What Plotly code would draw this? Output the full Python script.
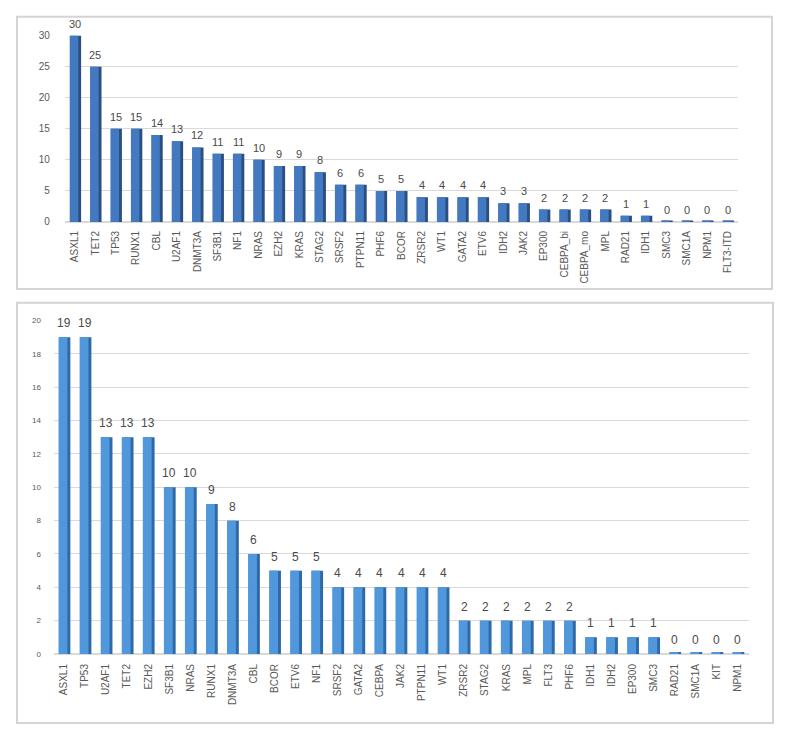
import plotly.graph_objects as go

genes_top = ["ASXL1","TET2","TP53","RUNX1","CBL","U2AF1","DNMT3A","SF3B1","NF1","NRAS",
             "EZH2","KRAS","STAG2","SRSF2","PTPN11","PHF6","BCOR","ZRSR2","WT1","GATA2",
             "ETV6","IDH2","JAK2","EP300","CEBPA_bi","CEBPA_mo","MPL","RAD21","IDH1","SMC3",
             "SMC1A","NPM1","FLT3-ITD"]
counts_top = [30,25,15,15,14,13,12,11,11,10,9,9,8,6,6,5,5,4,4,4,4,3,3,2,2,2,2,1,1,0,0,0,0]

genes_bot = ["ASXL1","TP53","U2AF1","TET2","EZH2","SF3B1","NRAS","RUNX1","DNMT3A","CBL",
             "BCOR","ETV6","NF1","SRSF2","GATA2","CEBPA","JAK2","PTPN11","WT1","ZRSR2",
             "STAG2","KRAS","MPL","FLT3","PHF6","IDH1","IDH2","EP300","SMC3","RAD21",
             "SMC1A","KIT","NPM1"]
counts_bot = [19,19,13,13,13,10,10,9,8,6,5,5,5,4,4,4,4,4,4,2,2,2,2,2,2,1,1,1,1,0,0,0,0]

W, H = 791, 731
fig = go.Figure()
annotations = []

def add_panel(genes, counts, xa, ya, front, side, txt_size, shift):
    n = len(genes)
    base_vis = [max(c, 0.12) for c in counts]
    fig.add_trace(go.Bar(x=list(range(n)), y=base_vis, width=0.54, offset=-0.24,
                         marker=dict(color=side, line=dict(width=0)),
                         xaxis=xa, yaxis=ya, hoverinfo="skip", showlegend=False))
    fig.add_trace(go.Bar(x=list(range(n)), y=base_vis, width=0.42, offset=-0.26,
                         marker=dict(color=front, line=dict(width=0)),
                         xaxis=xa, yaxis=ya, showlegend=False))
    for i, c in enumerate(counts):
        annotations.append(dict(x=i, y=c, xref=xa, yref=ya, text=str(c),
                                showarrow=False, yanchor="bottom", yshift=shift,
                                font=dict(size=txt_size, color="#4a4a4a",
                                          family="Liberation Sans")))

add_panel(genes_top, counts_top, "x", "y", "#4279c0", "#2a4f80", 11, 4)
add_panel(genes_bot, counts_bot, "x2", "y2", "#5197dc", "#2f6aa8", 12, 5)

def px_x(v): return v / W
def px_y(v): return 1 - v / H

fig.update_layout(
    width=W, height=H, margin=dict(l=0, r=0, t=0, b=0),
    paper_bgcolor="white", plot_bgcolor="white", barmode="overlay",
    annotations=annotations,
    xaxis=dict(domain=[px_x(64.8), px_x(738)], range=[-0.5, 32.5],
               tickmode="array", tickvals=list(range(33)), ticktext=genes_top,
               tickangle=-90, tickfont=dict(size=10, color="#595959", family="Liberation Sans"),
               showgrid=False, zeroline=False, showline=False, anchor="y",
               ticks="outside", ticklen=4, tickcolor="rgba(0,0,0,0)"),
    yaxis=dict(domain=[px_y(220), px_y(31)], range=[0, 30], dtick=5,
               tickfont=dict(size=10, color="#595959", family="Liberation Sans"),
               gridcolor="#d9d9d9", gridwidth=1, zeroline=True, zerolinecolor="#d9d9d9",
               showline=False, anchor="x", ticks="outside", ticklen=12,
               tickcolor="rgba(0,0,0,0)"),
    xaxis2=dict(domain=[px_x(53.5), px_x(748.5)], range=[-0.5, 32.5],
                tickmode="array", tickvals=list(range(33)), ticktext=genes_bot,
                tickangle=-90, tickfont=dict(size=10, color="#595959", family="Liberation Sans"),
                showgrid=False, zeroline=False, showline=False, anchor="y2",
                ticks="outside", ticklen=5, tickcolor="rgba(0,0,0,0)"),
    yaxis2=dict(domain=[px_y(658), px_y(320)], range=[0, 20], dtick=2,
                tickfont=dict(size=8, color="#595959", family="Liberation Sans"),
                gridcolor="#d9d9d9", gridwidth=1, zeroline=True, zerolinecolor="#d9d9d9",
                showline=False, anchor="x2", ticks="outside", ticklen=10,
                tickcolor="rgba(0,0,0,0)"),
    shapes=[
        dict(type="rect", xref="paper", yref="paper", x0=px_x(17), x1=px_x(772),
             y0=px_y(288), y1=px_y(12), line=dict(color="#d4d4d4", width=2), layer="below"),
        dict(type="rect", xref="paper", yref="paper", x0=px_x(17), x1=px_x(773),
             y0=px_y(728), y1=px_y(302), line=dict(color="#d4d4d4", width=2), layer="below"),
    ],
)

fig.write_html("out.html")
